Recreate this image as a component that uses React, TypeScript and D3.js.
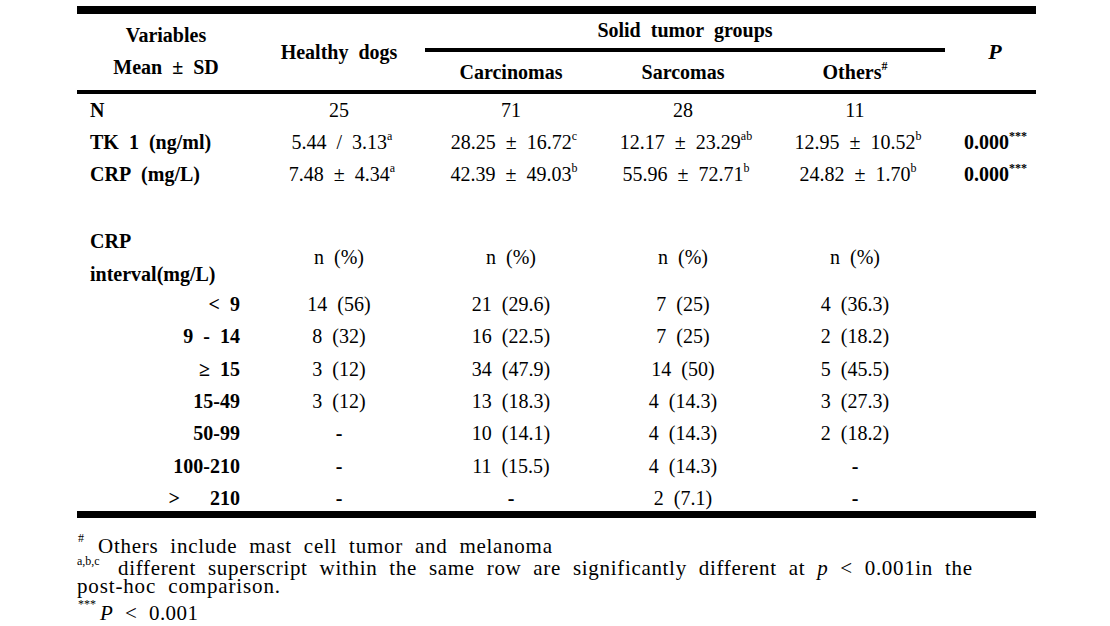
import React from 'react';
import * as d3 from 'd3';

const groups = ['Healthy dogs', 'Carcinomas', 'Sarcomas', 'Others'];
const nValues = ['25', '71', '28', '11'];
const tk1Means = ['5.44', '28.25', '12.17', '12.95'];
const tk1Seps = ['/', '±', '±', '±'];
const tk1SDs = ['3.13', '16.72', '23.29', '10.52'];
const tk1Sups = ['a', 'c', 'ab', 'b'];
const crpMeans = ['7.48', '42.39', '55.96', '24.82'];
const crpSDs = ['4.34', '49.03', '72.71', '1.70'];
const crpSups = ['a', 'b', 'b', 'b'];
const pValues = ['0.000', '0.000'];
const topRows = ['N', 'TK 1 (ng/ml)', 'CRP (mg/L)'];
const intervals = ['< 9', '9 - 14', '≥ 15', '15-49', '50-99', '100-210', '>   210'];
const healthyN = ['14', '8', '3', '3', '', '', ''];
const healthyPct = ['56', '32', '12', '12', '', '', ''];
const carcN = ['21', '16', '34', '13', '10', '11', ''];
const carcPct = ['29.6', '22.5', '47.9', '18.3', '14.1', '15.5', ''];
const sarcN = ['7', '7', '14', '4', '4', '4', '2'];
const sarcPct = ['25', '25', '50', '14.3', '14.3', '14.3', '7.1'];
const othN = ['4', '2', '5', '3', '2', '', ''];
const othPct = ['36.3', '18.2', '45.5', '27.3', '18.2', '', ''];

const FONT = '"Liberation Serif", "Times New Roman", serif';
const sp = (s: string) => s.replace(/ /g, '\u00A0\u00A0');

export default function App() {
  const W = 1110, H = 626;
  const x = d3.scalePoint<string>().domain(groups).range([339, 855]);
  const yTop = d3.scalePoint<string>().domain(topRows).range([117, 181]);
  const yInt = d3.scalePoint<string>().domain(intervals).range([311, 505]);
  const counts = [
    [healthyN, healthyPct],
    [carcN, carcPct],
    [sarcN, sarcPct],
    [othN, othPct],
  ];
  const SUP = 12;
  return (
    <svg width={W} height={H} style={{ position: 'absolute', left: 0, top: 0, background: '#fff' }}
      fontFamily={FONT} fontSize={20} fill="#000">
      {/* rules */}
      <rect x={77} y={6} width={959} height={8} fill="#000" />
      <rect x={425} y={48} width={520} height={4} fill="#000" />
      <rect x={77} y={90} width={959} height={4} fill="#000" />
      <rect x={77} y={511} width={959} height={7} fill="#000" />

      {/* header */}
      <g fontWeight="bold" textAnchor="middle">
        <text x={166} y={42}>Variables</text>
        <text x={166} y={74}>{sp('Mean ± SD')}</text>
        <text x={x('Healthy dogs')} y={59}>{sp('Healthy dogs')}</text>
        <text x={685} y={37}>{sp('Solid tumor groups')}</text>
        {groups.slice(1).map((g) => (
          <text key={g} x={x(g)} y={79}>
            {g}
            {g === 'Others' ? <tspan fontSize={SUP} dy={-9}>#</tspan> : null}
          </text>
        ))}
        <text x={995} y={59} fontStyle="italic" fontSize={22}>P</text>
      </g>

      {/* top rows */}
      <g fontWeight="bold">
        {topRows.map((r) => (
          <text key={r} x={90} y={yTop(r)}>{sp(r)}</text>
        ))}
      </g>
      <g textAnchor="middle">
        {groups.map((g, i) => (
          <text key={'n' + g} x={x(g)} y={yTop('N')}>{nValues[i]}</text>
        ))}
        {groups.map((g, i) => (
          <text key={'tk' + g} x={(x(g) as number) + 3} y={yTop('TK 1 (ng/ml)')}>
            {sp(`${tk1Means[i]} ${tk1Seps[i]} ${tk1SDs[i]}`)}
            <tspan fontSize={SUP} dy={-9}>{tk1Sups[i]}</tspan>
          </text>
        ))}
        {groups.map((g, i) => (
          <text key={'crp' + g} x={(x(g) as number) + 3} y={yTop('CRP (mg/L)')}>
            {sp(`${crpMeans[i]} ± ${crpSDs[i]}`)}
            <tspan fontSize={SUP} dy={-9}>{crpSups[i]}</tspan>
          </text>
        ))}
      </g>
      <g fontWeight="bold">
        {pValues.map((p, i) => (
          <text key={'p' + i} x={964} y={yTop(topRows[i + 1])}>
            {p}
            <tspan fontSize={SUP} dy={-9}>***</tspan>
          </text>
        ))}
      </g>

      {/* interval section */}
      <g fontWeight="bold">
        <text x={90} y={248}>CRP</text>
        <text x={90} y={281}>interval(mg/L)</text>
        {intervals.map((r) => (
          <text key={r} x={240} y={yInt(r)} textAnchor="end">{sp(r)}</text>
        ))}
      </g>
      <g textAnchor="middle">
        {groups.map((g) => (
          <text key={'h' + g} x={x(g)} y={264}>{sp('n (%)')}</text>
        ))}
        {groups.map((g, gi) =>
          intervals.map((r, ri) => {
            const n = counts[gi][0][ri];
            const p = counts[gi][1][ri];
            return (
              <text key={g + r} x={x(g)} y={yInt(r)} fontWeight={n ? 'normal' : 'bold'}>
                {n ? sp(`${n} (${p})`) : '-'}
              </text>
            );
          })
        )}
      </g>

      {/* footnotes */}
      <g fontSize={21} wordSpacing={6}>
        <text x={78} y={542} fontSize={SUP}>#</text>
        <text x={98} y={553} textLength={454} lengthAdjust="spacing">Others include mast cell tumor and melanoma</text>
        <text x={77} y={565} fontSize={SUP} wordSpacing={0}>a,b,c</text>
        <text x={118} y={575} textLength={854} lengthAdjust="spacing">
          different superscript within the same row are significantly different at <tspan fontStyle="italic">p</tspan> {'<'} 0.001in the
        </text>
        <text x={77} y={593} textLength={203} lengthAdjust="spacing">post-hoc comparison.</text>
        <text x={78} y={608} fontSize={SUP} wordSpacing={0}>***</text>
        <text x={100} y={620} textLength={98} lengthAdjust="spacing">
          <tspan fontStyle="italic">P</tspan>{' < 0.001'}
        </text>
      </g>
    </svg>
  );
}
